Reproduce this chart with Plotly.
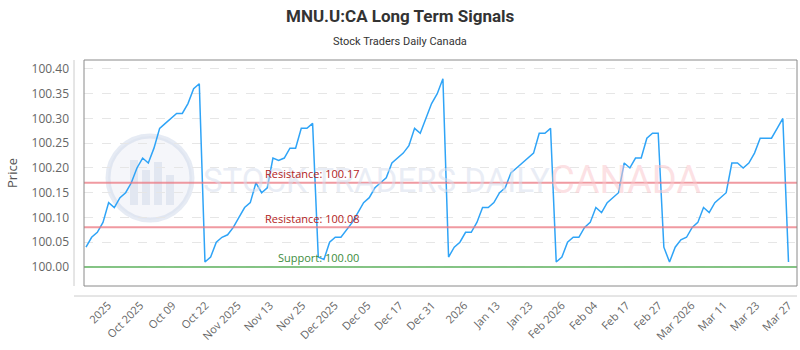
import plotly.graph_objects as go

# ---- data ----
prices = [
    100.04, 100.06, 100.07, 100.09, 100.13, 100.12, 100.14, 100.15, 100.17, 100.20,
    100.22, 100.21, 100.24, 100.28, 100.29, 100.30, 100.31, 100.31, 100.33, 100.36,
    100.37,
    100.01, 100.02, 100.05, 100.06, 100.065, 100.08, 100.10, 100.12, 100.13, 100.17,
    100.15, 100.16, 100.22, 100.215, 100.22, 100.24, 100.24, 100.28, 100.28, 100.29,
    100.02, 100.015, 100.05, 100.06, 100.06, 100.075, 100.09, 100.11, 100.13, 100.14,
    100.16, 100.17, 100.18, 100.21, 100.22, 100.23, 100.245, 100.28, 100.27, 100.30,
    100.33, 100.35, 100.38,
    100.02, 100.04, 100.05, 100.07, 100.07, 100.09, 100.12, 100.12, 100.13, 100.15,
    100.16, 100.19, 100.20, 100.21, 100.22, 100.23, 100.27, 100.27, 100.28,
    100.01, 100.02, 100.05, 100.06, 100.06, 100.08, 100.09, 100.12, 100.11, 100.13,
    100.14, 100.15, 100.21, 100.20, 100.22, 100.22, 100.26, 100.27, 100.27,
    100.04, 100.01, 100.04, 100.055, 100.06, 100.08, 100.09, 100.12, 100.11, 100.13,
    100.14, 100.15, 100.21, 100.21, 100.20, 100.21, 100.23, 100.26, 100.26, 100.26,
    100.28, 100.30, 100.01,
]
x_idx = list(range(len(prices)))

tick_labels = ["2025", "Oct 2025", "Oct 09", "Oct 22", "Nov 2025", "Nov 13", "Nov 25",
               "Dec 2025", "Dec 05", "Dec 17", "Dec 31", "2026", "Jan 13", "Jan 23",
               "Feb 2026", "Feb 04", "Feb 17", "Feb 27", "Mar 2026", "Mar 11",
               "Mar 23", "Mar 27"]
tick_pos = [3.9, 9.6, 15.3, 21.1, 26.8, 32.5, 38.2, 43.9, 49.7, 55.4, 61.1,
            66.8, 72.5, 78.3, 84.0, 89.7, 95.4, 101.1, 106.9, 112.6, 118.3, 124.0]

resistance_levels = [100.17, 100.08]
support_levels = [100.00]

title_text = "MNU.U:CA Long Term Signals"
subtitle_text = "Stock Traders Daily Canada"

# ---- figure ----
fig = go.Figure()

fig.add_trace(go.Scatter(
    x=x_idx, y=prices, mode="lines",
    line=dict(color="#2fa4f7", width=1.5),
    hoverinfo="y", showlegend=False,
))

PW, PH, PL, PB = 713, 226, 84, 286


def px(v):
    return (v - PL) / PW


def py(v):
    return (PB - v) / PH


shapes = []
# watermark logo
shapes.append(dict(type="circle", xref="paper", yref="paper",
                   x0=px(108), x1=px(192), y0=py(220), y1=py(136),
                   line=dict(color="rgba(200,210,230,0.45)", width=5),
                   fillcolor="rgba(225,230,242,0.35)", layer="below"))
for bx0, bx1, by in [(130, 138, 160), (142, 150, 170), (154, 162, 162), (166, 174, 175)]:
    shapes.append(dict(type="rect", xref="paper", yref="paper",
                       x0=px(bx0), x1=px(bx1), y0=py(205), y1=py(by),
                       line=dict(width=0), fillcolor="rgba(205,212,230,0.45)", layer="below"))

for lv in resistance_levels:
    shapes.append(dict(type="line", xref="paper", yref="y", x0=0, x1=1, y0=lv, y1=lv,
                       line=dict(color="rgba(235,120,130,0.75)", width=2)))
for lv in support_levels:
    shapes.append(dict(type="line", xref="paper", yref="y", x0=0, x1=1, y0=lv, y1=lv,
                       line=dict(color="rgba(120,190,120,0.9)", width=2)))

# plot frame
shapes.append(dict(type="rect", xref="paper", yref="paper", x0=0, x1=1, y0=0, y1=1,
                   line=dict(color="#8a8a8a", width=1)))
# offset axis lines
shapes.append(dict(type="line", xref="paper", yref="paper", x0=px(74), x1=px(74),
                   y0=0, y1=1, line=dict(color="#cccccc", width=1)))
shapes.append(dict(type="line", xref="paper", yref="paper", x0=px(74), x1=1,
                   y0=py(296), y1=py(296), line=dict(color="#cccccc", width=1)))

annotations = [
    dict(text="STOCK TRADERS DAILY", xref="paper", yref="paper",
         x=px(376), y=py(180), xanchor="center", yanchor="middle", showarrow=False,
         font=dict(family="Roboto", size=33, color="rgba(215,222,238,0.55)")),
    dict(text="CANADA", xref="paper", yref="paper",
         x=px(625), y=py(180), xanchor="center", yanchor="middle", showarrow=False,
         font=dict(family="Roboto", size=38, color="rgba(250,200,205,0.55)")),
    dict(text=f"<b>{title_text}</b>", xref="paper", yref="paper",
         x=px(400), y=py(16), xanchor="center", yanchor="middle", showarrow=False,
         font=dict(family="Roboto", size=17, color="#333333")),
    dict(text=subtitle_text, xref="paper", yref="paper",
         x=px(400), y=py(41), xanchor="center", yanchor="middle", showarrow=False,
         font=dict(family="Roboto", size=11, color="#333333")),
]
for lv in resistance_levels:
    annotations.append(dict(text=f"Resistance: {lv:.2f}", x=39.9, y=lv, xref="x", yref="y",
                            xanchor="center", yshift=9, showarrow=False,
                            font=dict(family="Open Sans", size=11, color="#b22222")))
for lv in support_levels:
    annotations.append(dict(text=f"Support: {lv:.2f}", x=41.0, y=lv, xref="x", yref="y",
                            xanchor="center", yshift=9, showarrow=False,
                            font=dict(family="Open Sans", size=11, color="#3c8c3c")))

fig.update_layout(
    width=800, height=350,
    margin=dict(l=84, r=3, t=60, b=64),
    paper_bgcolor="white", plot_bgcolor="white",
    shapes=shapes,
    annotations=annotations,
    xaxis=dict(range=[-0.35, 125.5], tickmode="array", tickvals=tick_pos, ticktext=tick_labels,
               tickangle=-45, showgrid=False, zeroline=False, showline=False,
               ticklabelstandoff=10,
               tickfont=dict(family="Open Sans", size=11, color="#666666")),
    yaxis=dict(range=[99.9616, 100.418], tickmode="array",
               tickvals=[100.00, 100.05, 100.10, 100.15, 100.20, 100.25, 100.30, 100.35, 100.40],
               tickformat=".2f", showgrid=True, gridcolor="#e6e6e6", griddash="dash",
               zeroline=False, showline=False, ticklabelstandoff=14,
               title=dict(text="Price", font=dict(family="Open Sans", size=13, color="#555555"),
                          standoff=10),
               tickfont=dict(family="Open Sans", size=12, color="#666666")),
)

fig.write_html("out.html")
